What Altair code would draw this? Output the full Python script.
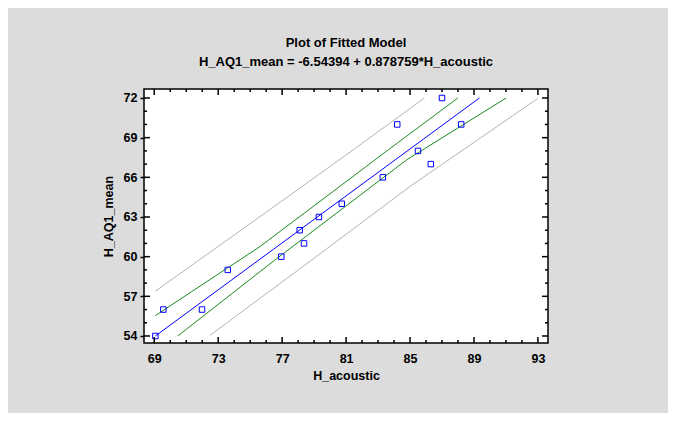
import altair as alt
import pandas as pd

# ---- data ----
x_obs = [69.07, 69.57, 71.99, 73.6, 76.95, 78.37, 78.1, 79.3, 80.73, 83.3, 84.2, 85.5, 86.3, 87.0, 88.2]
y_obs = [54, 56, 56, 59, 60, 61, 62, 63, 64, 66, 70, 68, 67, 72, 70]

fit_x = [69.07, 89.34]
fit_y = [54.0, 72.0]
conf_up_x = [69.07, 75.62, 83.65, 87.99]
conf_up_y = [55.54, 60.77, 68.09, 72.0]
conf_lo_x = [70.47, 76.56, 84.8, 91.01]
conf_lo_y = [54.0, 59.76, 67.33, 72.0]
pred_up_x = [69.07, 75.62, 81.46, 85.9]
pred_up_y = [57.39, 63.03, 68.09, 72.0]
pred_lo_x = [72.49, 78.02, 85.0, 92.97]
pred_lo_y = [54.05, 59.0, 65.31, 71.95]

x_major = [69, 73, 77, 81, 85, 89, 93]
y_major = [54, 57, 60, 63, 66, 69, 72]
x_minor = [v for v in range(69, 94) if v not in x_major]
y_minor = [v for v in range(54, 73) if v not in y_major]

title_lines = ["Plot of Fitted Model", "H_AQ1_mean = -6.54394 + 0.878759*H_acoustic"]
x_title = "H_acoustic"
y_title = "H_AQ1_mean"

W, H = 404, 254
FONT = "Liberation Sans"

xs = alt.Scale(domain=[68.36, 93.63], nice=False, zero=False)
ys = alt.Scale(domain=[53.47, 72.68], nice=False, zero=False)

pts = pd.DataFrame({"x": x_obs, "y": y_obs})


def line_df(xv, yv, name):
    return pd.DataFrame({"x": xv, "y": yv, "s": name, "o": list(range(len(xv)))})


def line_layer(df, color):
    return alt.Chart(df).mark_line(color=color, strokeWidth=1).encode(
        x=alt.X("x:Q", scale=xs), y=alt.Y("y:Q", scale=ys), order="o:Q"
    )


x_axis = alt.Axis(values=x_major, ticks=False, domain=False, grid=False,
                  labelFont=FONT, labelFontSize=12.5, labelFontWeight="bold", labelColor="black",
                  labelPadding=9, title=x_title, titleFont=FONT, titleFontSize=12.5,
                  titleFontWeight="bold", titleColor="black", titlePadding=5)
y_axis = alt.Axis(values=y_major, ticks=True, tickSize=4, tickColor="black", tickWidth=1.5,
                  domain=False, grid=False,
                  labelFont=FONT, labelFontSize=12.5, labelFontWeight="bold", labelColor="black",
                  labelPadding=3, title=y_title, titleFont=FONT, titleFontSize=12.5,
                  titleFontWeight="bold", titleColor="black", titlePadding=8)

base_pts = alt.Chart(pts).mark_point(shape="square", size=30, color="#0000ff",
                                     strokeWidth=1, filled=False, opacity=1).encode(
    x=alt.X("x:Q", scale=xs, axis=x_axis),
    y=alt.Y("y:Q", scale=ys, axis=y_axis),
)

lines = [
    line_layer(line_df(pred_up_x, pred_up_y, "pu"), "#b4b4b4"),
    line_layer(line_df(pred_lo_x, pred_lo_y, "pl"), "#b4b4b4"),
    line_layer(line_df(conf_up_x, conf_up_y, "cu"), "#1a8a1a"),
    line_layer(line_df(conf_lo_x, conf_lo_y, "cl"), "#1a8a1a"),
    line_layer(line_df(fit_x, fit_y, "f"), "#0000ff"),
]

xmaj = pd.DataFrame({"v": x_major})
xmin = pd.DataFrame({"v": x_minor})
ymaj = pd.DataFrame({"v": y_major})
ymin = pd.DataFrame({"v": y_minor})


def xticks(df, y0, y1):
    return alt.Chart(df).mark_rule(color="black", strokeWidth=1.5).encode(
        x=alt.X("v:Q", scale=xs), y=alt.value(y0), y2=alt.value(y1))


def yticks(df, x0, x1):
    return alt.Chart(df).mark_rule(color="black", strokeWidth=1.5).encode(
        y=alt.Y("v:Q", scale=ys), x=alt.value(x0), x2=alt.value(x1))


ticks = [
    xticks(xmaj, H, H - 6), xticks(xmin, H, H - 3),
    xticks(xmaj, 0, 6), xticks(xmin, 0, 3),
    yticks(ymaj, 0, 6), yticks(ymin, 0, 3),
    yticks(ymaj, W, W - 6), yticks(ymin, W, W - 3),
]

chart = alt.layer(*lines, base_pts, *ticks).properties(
    width=W, height=H,
    title=alt.TitleParams(text=title_lines, font=FONT, fontSize=13, fontWeight="bold",
                          color="black", anchor="middle", lineHeight=19, offset=19),
    autosize=alt.AutoSizeParams(type="none"),
    padding={"left": 136, "top": 81, "right": 120, "bottom": 70},
    background="#dcdcdc",
).configure_view(stroke="black", strokeWidth=1.5, fill="white")

chart.save("out.html", embed_options={"renderer": "svg", "actions": False})
